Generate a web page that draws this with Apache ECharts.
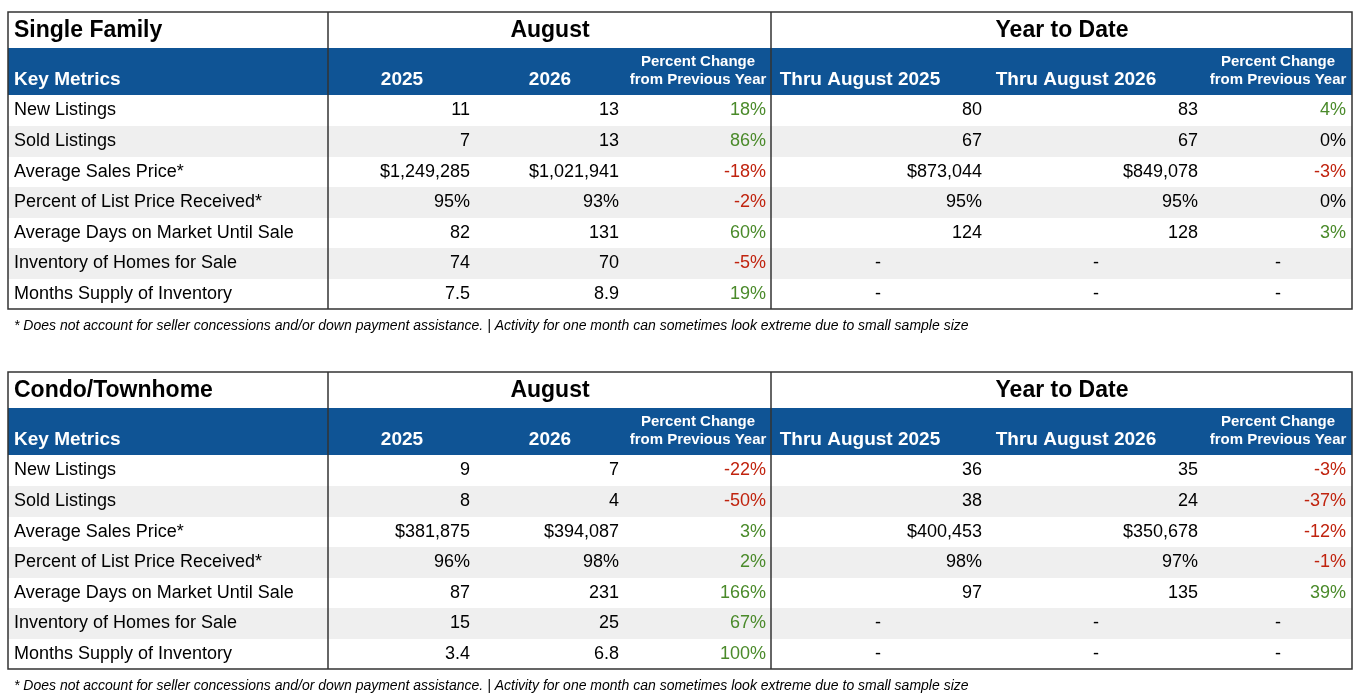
<!DOCTYPE html>
<html>
<head>
<meta charset="utf-8">
<title>Key Metrics</title>
<script src="https://cdn.jsdelivr.net/npm/echarts@6/dist/echarts.min.js"></script>
<style>html,body{margin:0;padding:0;background:#fff}#main{width:1362px;height:697px}</style>
</head>
<body>
<div id="main"></div>
<script>
var metrics = ['New Listings','Sold Listings','Average Sales Price*','Percent of List Price Received*',
  'Average Days on Market Until Sale','Inventory of Homes for Sale','Months Supply of Inventory'];
var tableTitles = ['Single Family','Condo/Townhome'];
var sfAug25 = ['11','7','$1,249,285','95%','82','74','7.5'];
var sfAug26 = ['13','13','$1,021,941','93%','131','70','8.9'];
var sfAugPct = ['18%','86%','-18%','-2%','60%','-5%','19%'];
var sfYtd25 = ['80','67','$873,044','95%','124','-','-'];
var sfYtd26 = ['83','67','$849,078','95%','128','-','-'];
var sfYtdPct = ['4%','0%','-3%','0%','3%','-','-'];
var ctAug25 = ['9','8','$381,875','96%','87','15','3.4'];
var ctAug26 = ['7','4','$394,087','98%','231','25','6.8'];
var ctAugPct = ['-22%','-50%','3%','2%','166%','67%','100%'];
var ctYtd25 = ['36','38','$400,453','98%','97','-','-'];
var ctYtd26 = ['35','24','$350,678','97%','135','-','-'];
var ctYtdPct = ['-3%','-37%','-12%','-1%','39%','-','-'];
var footnote = '* Does not account for seller concessions and/or down payment assistance. | Activity for one month can sometimes look extreme due to small sample size';

var chart = echarts.init(document.getElementById('main'));
var NARROW = '"Liberation Sans Narrow", "Arial Narrow", "Liberation Sans", Arial, sans-serif';
var SANS = '"Liberation Sans", Arial, sans-serif';
var BLUE = '#0f5495', GREEN = '#4a8a2a', RED = '#c0230e';
var L = 8, R = 1352, C1 = 328, C2 = 771;
var rowTops = [95,126,157,187,218,248,279,309];
var rightX = [470,619,766,982,1198,1346];
var dashX = [878,1096,1278];

function txt(x, y, s, opt) {
  return {type:'text', x:x, y:y, style:Object.assign({text:s, fontFamily:SANS, fontSize:18, fill:'#000',
    verticalAlign:'middle'}, opt || {})};
}
function line(x1,y1,x2,y2,w,c){
  return {type:'line', shape:{x1:x1,y1:y1,x2:x2,y2:y2}, style:{stroke:c||'#333', lineWidth:w||1}};
}
function pctColor(s){ if (s==='-' || s==='0%') return '#000'; return s.charAt(0)==='-' ? RED : GREEN; }

function buildTable(top, title, cols) {
  var g = [];
  var dy = top - 12;
  g.push({type:'rect', shape:{x:L,y:48+dy,width:R-L,height:47}, style:{fill:BLUE}});
  for (var i = 0; i < metrics.length; i++) {
    if (i % 2 === 1) g.push({type:'rect', shape:{x:L,y:rowTops[i]+dy,width:R-L,height:rowTops[i+1]-rowTops[i]}, style:{fill:'#efefef'}});
  }
  g.push(txt(14, 31+dy, title, {fontFamily:SANS, fontWeight:'bold', fontSize:23}));
  g.push(txt(550, 31+dy, 'August', {fontWeight:'bold', fontSize:23, align:'center'}));
  g.push(txt(1062, 31+dy, 'Year to Date', {fontWeight:'bold', fontSize:23, align:'center'}));
  var hs = {fill:'#fff', fontWeight:'bold', fontFamily:NARROW, fontSize:19};
  g.push(txt(14, 80+dy, 'Key Metrics', hs));
  g.push(txt(402, 80+dy, '2025', Object.assign({align:'center'}, hs)));
  g.push(txt(550, 80+dy, '2026', Object.assign({align:'center'}, hs)));
  g.push(txt(860, 80+dy, 'Thru August 2025', Object.assign({align:'center'}, hs)));
  g.push(txt(1076, 80+dy, 'Thru August 2026', Object.assign({align:'center'}, hs)));
  var ps = Object.assign({}, hs, {fontSize:15, align:'center'});
  [698, 1278].forEach(function (cx) {
    g.push(txt(cx, 62+dy, 'Percent Change', ps));
    g.push(txt(cx, 80+dy, 'from Previous Year', ps));
  });
  for (var r = 0; r < metrics.length; r++) {
    var cy = (rowTops[r] + rowTops[r+1]) / 2 + dy;
    g.push(txt(14, cy, metrics[r]));
    cols.forEach(function (arr, c) {
      var v = arr[r];
      var isPct = (c === 2 || c === 5);
      var fill = isPct ? pctColor(v) : '#000';
      if (v === '-') g.push(txt(dashX[c-3], cy, v, {align:'center'}));
      else g.push(txt(rightX[c], cy, v, {align:'right', fill:fill}));
    });
  }
  var B = rowTops[7] + dy;
  g.push({type:'rect', shape:{x:L,y:top,width:R-L,height:B-top}, style:{fill:'none', stroke:'#333', lineWidth:1.5}});
  g.push(line(C1, top, C1, B, 1.5));
  g.push(line(C2, top, C2, B, 1.5));
  g.push(txt(14, B+17, footnote, {fontStyle:'italic', fontSize:14}));
  return g;
}

var elements = buildTable(12, tableTitles[0], [sfAug25, sfAug26, sfAugPct, sfYtd25, sfYtd26, sfYtdPct])
  .concat(buildTable(372, tableTitles[1], [ctAug25, ctAug26, ctAugPct, ctYtd25, ctYtd26, ctYtdPct]));

chart.setOption({animation:false, graphic:{elements:elements}});
</script>
</body>
</html>
